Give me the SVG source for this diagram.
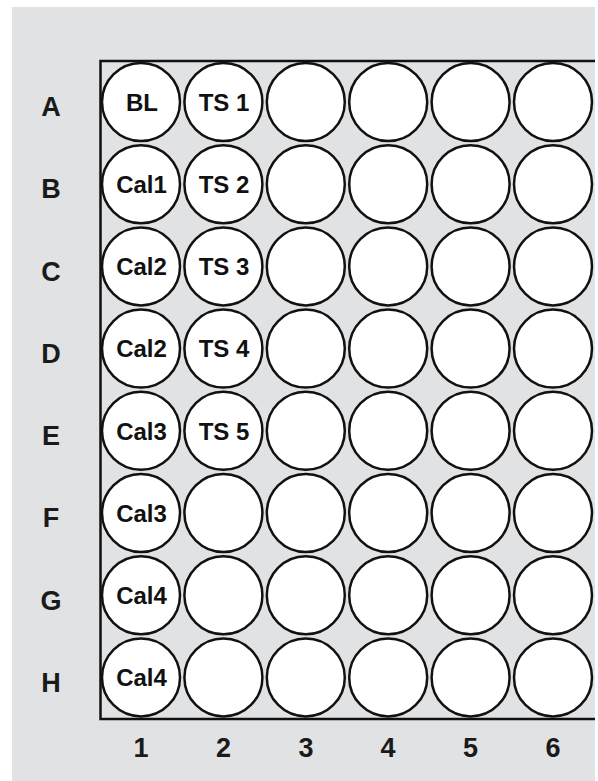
<svg xmlns="http://www.w3.org/2000/svg" width="598" height="781" viewBox="0 0 598 781">
<style>
.well{fill:#fff;stroke:#111;stroke-width:2.5}
.wt{font-family:"Liberation Sans",Arial,sans-serif;font-weight:bold;font-size:24px;fill:#111;text-anchor:middle}
.lab{font-family:"Liberation Sans",Arial,sans-serif;font-weight:bold;font-size:27px;fill:#1a1a1a;text-anchor:middle}
</style>
<rect x="0" y="0" width="598" height="781" fill="#fff"/>
<rect x="12" y="7" width="583" height="774" fill="#e1e2e4"/>
<g id="plate">
<path d="M595 61 H100.5 V719 H595" fill="none" stroke="#111" stroke-width="2.5"/>
</g>
<g id="rowlabels">
<text class="lab" x="51" y="116">A</text>
<text class="lab" x="51" y="198">B</text>
<text class="lab" x="51" y="280.5">C</text>
<text class="lab" x="51" y="362.5">D</text>
<text class="lab" x="51" y="445">E</text>
<text class="lab" x="51" y="527">F</text>
<text class="lab" x="51" y="609.5">G</text>
<text class="lab" x="51" y="691.5">H</text>
</g>
<g id="collabels">
<text class="lab" x="141" y="757">1</text>
<text class="lab" x="223.5" y="757">2</text>
<text class="lab" x="306" y="757">3</text>
<text class="lab" x="388" y="757">4</text>
<text class="lab" x="470.5" y="757">5</text>
<text class="lab" x="553" y="757">6</text>
</g>
<g id="wells">
<g id="rowA">
<circle class="well" cx="141" cy="102" r="39"/><circle class="well" cx="223.4" cy="102" r="39"/><circle class="well" cx="305.8" cy="102" r="39"/><circle class="well" cx="388.2" cy="102" r="39"/><circle class="well" cx="470.6" cy="102" r="39"/><circle class="well" cx="553" cy="102" r="39"/>
</g>
<g id="rowB">
<circle class="well" cx="141" cy="184.2" r="39"/><circle class="well" cx="223.4" cy="184.2" r="39"/><circle class="well" cx="305.8" cy="184.2" r="39"/><circle class="well" cx="388.2" cy="184.2" r="39"/><circle class="well" cx="470.6" cy="184.2" r="39"/><circle class="well" cx="553" cy="184.2" r="39"/>
</g>
<g id="rowC">
<circle class="well" cx="141" cy="266.4" r="39"/><circle class="well" cx="223.4" cy="266.4" r="39"/><circle class="well" cx="305.8" cy="266.4" r="39"/><circle class="well" cx="388.2" cy="266.4" r="39"/><circle class="well" cx="470.6" cy="266.4" r="39"/><circle class="well" cx="553" cy="266.4" r="39"/>
</g>
<g id="rowD">
<circle class="well" cx="141" cy="348.6" r="39"/><circle class="well" cx="223.4" cy="348.6" r="39"/><circle class="well" cx="305.8" cy="348.6" r="39"/><circle class="well" cx="388.2" cy="348.6" r="39"/><circle class="well" cx="470.6" cy="348.6" r="39"/><circle class="well" cx="553" cy="348.6" r="39"/>
</g>
<g id="rowE">
<circle class="well" cx="141" cy="430.8" r="39"/><circle class="well" cx="223.4" cy="430.8" r="39"/><circle class="well" cx="305.8" cy="430.8" r="39"/><circle class="well" cx="388.2" cy="430.8" r="39"/><circle class="well" cx="470.6" cy="430.8" r="39"/><circle class="well" cx="553" cy="430.8" r="39"/>
</g>
<g id="rowF">
<circle class="well" cx="141" cy="513" r="39"/><circle class="well" cx="223.4" cy="513" r="39"/><circle class="well" cx="305.8" cy="513" r="39"/><circle class="well" cx="388.2" cy="513" r="39"/><circle class="well" cx="470.6" cy="513" r="39"/><circle class="well" cx="553" cy="513" r="39"/>
</g>
<g id="rowG">
<circle class="well" cx="141" cy="595.2" r="39"/><circle class="well" cx="223.4" cy="595.2" r="39"/><circle class="well" cx="305.8" cy="595.2" r="39"/><circle class="well" cx="388.2" cy="595.2" r="39"/><circle class="well" cx="470.6" cy="595.2" r="39"/><circle class="well" cx="553" cy="595.2" r="39"/>
</g>
<g id="rowH">
<circle class="well" cx="141" cy="677.4" r="39"/><circle class="well" cx="223.4" cy="677.4" r="39"/><circle class="well" cx="305.8" cy="677.4" r="39"/><circle class="well" cx="388.2" cy="677.4" r="39"/><circle class="well" cx="470.6" cy="677.4" r="39"/><circle class="well" cx="553" cy="677.4" r="39"/>
</g>
</g>
<g id="welltexts">
<text class="wt" x="142" y="110.7">BL</text>
<text class="wt" x="224" y="110.7">TS 1</text>
<text class="wt" x="141.5" y="192.9">Cal1</text>
<text class="wt" x="224" y="192.9">TS 2</text>
<text class="wt" x="141.5" y="275.1">Cal2</text>
<text class="wt" x="224" y="275.1">TS 3</text>
<text class="wt" x="141.5" y="357.3">Cal2</text>
<text class="wt" x="224" y="357.3">TS 4</text>
<text class="wt" x="141.5" y="439.5">Cal3</text>
<text class="wt" x="224" y="439.5">TS 5</text>
<text class="wt" x="141.5" y="521.7">Cal3</text>
<text class="wt" x="141.5" y="603.9">Cal4</text>
<text class="wt" x="141.5" y="686.1">Cal4</text>
</g>
</svg>
